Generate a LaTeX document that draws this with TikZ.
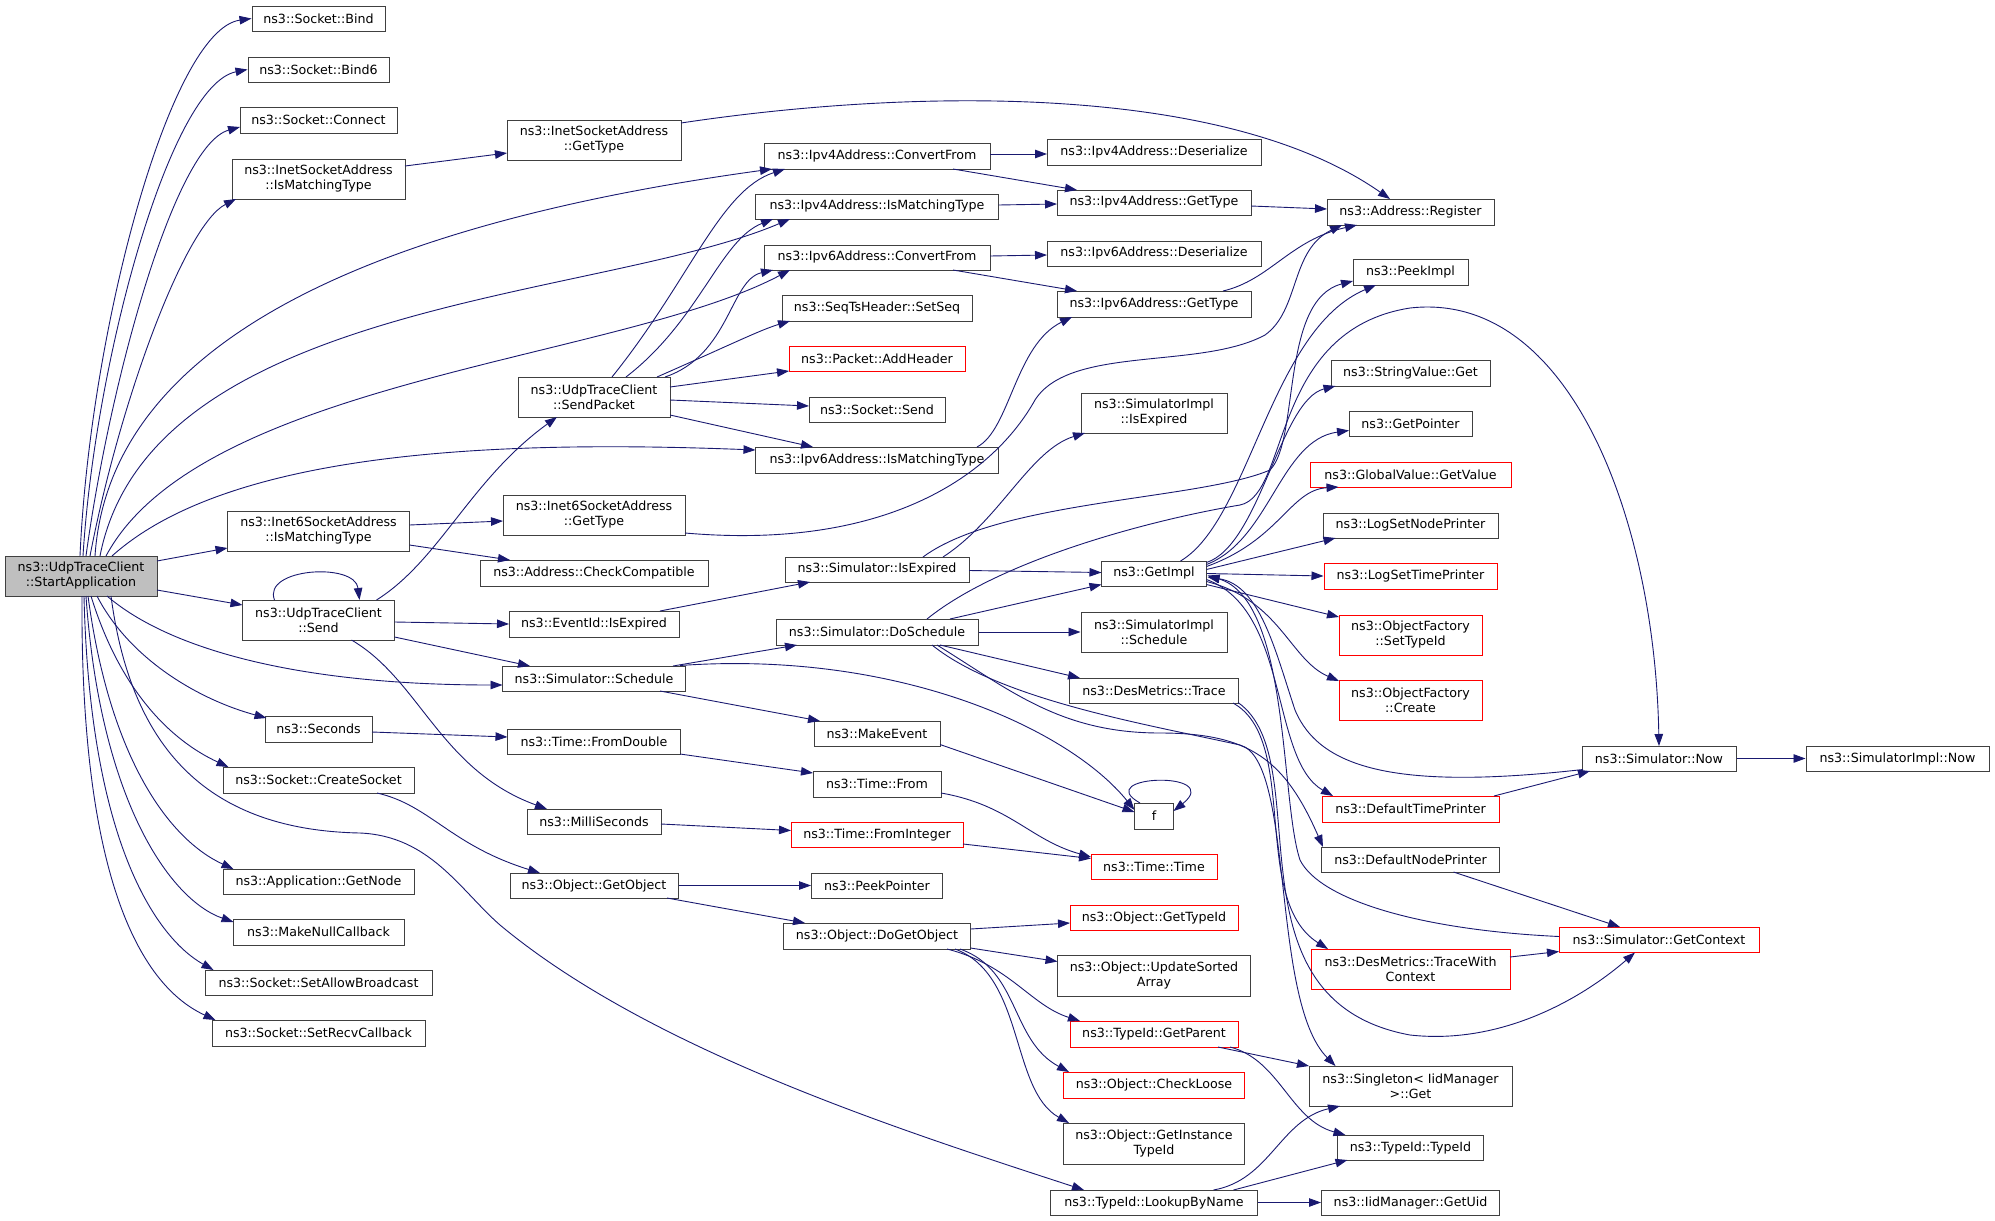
\documentclass[tikz,border=0pt]{standalone}
\usepackage{fontspec}
\setmainfont{DejaVu Sans}
\usetikzlibrary{arrows.meta,calc}
\definecolor{navy}{HTML}{191970}
\definecolor{boxgray}{HTML}{404040}
\definecolor{safill}{HTML}{BFBFBF}
\begin{document}
\begin{tikzpicture}[x=1pt,y=-1pt,
  box/.style={draw=boxgray, fill=white, line width=1pt, inner sep=0pt, align=center, font=\fontsize{12.65}{15}\selectfont},
  redbox/.style={box, draw=red},
  e/.style={draw=navy, line width=0.9pt, -{Triangle[length=12pt,width=8.5pt]}},
]
\useasboundingbox (0,0) rectangle (1995,1221);
% ---------- nodes ----------
\node[box, fill=safill, minimum width=152pt, minimum height=40pt] (sa) at (81,576) {ns3::UdpTraceClient\\::StartApplication};
\node[box, minimum width=133pt, minimum height=25pt] (bind) at (318.5,18.5) {ns3::Socket::Bind};
\node[box, minimum width=141pt, minimum height=25pt] (bindsix) at (318.5,69.5) {ns3::Socket::Bind6};
\node[box, minimum width=157pt, minimum height=26pt] (connect) at (318.5,120) {ns3::Socket::Connect};
\node[box, minimum width=173pt, minimum height=40pt] (inetmatch) at (318.5,179) {ns3::InetSocketAddress\\::IsMatchingType};
\node[box, minimum width=182pt, minimum height=40pt] (inetsixmatch) at (318.5,531) {ns3::Inet6SocketAddress\\::IsMatchingType};
\node[box, minimum width=152pt, minimum height=40pt] (udpsend) at (318.5,620) {ns3::UdpTraceClient\\::Send};
\node[box, minimum width=107pt, minimum height=26pt] (seconds) at (318.5,729) {ns3::Seconds};
\node[box, minimum width=191pt, minimum height=26pt] (createsock) at (318.5,780) {ns3::Socket::CreateSocket};
\node[box, minimum width=191pt, minimum height=25pt] (getnode) at (318.5,881.5) {ns3::Application::GetNode};
\node[box, minimum width=171pt, minimum height=26pt] (nullcb) at (318.5,932) {ns3::MakeNullCallback};
\node[box, minimum width=227pt, minimum height=25pt] (allowbc) at (318.5,982.5) {ns3::Socket::SetAllowBroadcast};
\node[box, minimum width=213pt, minimum height=26pt] (recvcb) at (318.5,1033) {ns3::Socket::SetRecvCallback};
\node[box, minimum width=174pt, minimum height=40pt] (inettype) at (594,140) {ns3::InetSocketAddress\\::GetType};
\node[box, minimum width=152pt, minimum height=40pt] (sendpacket) at (594,397) {ns3::UdpTraceClient\\::SendPacket};
\node[box, minimum width=182pt, minimum height=40pt] (inetsixtype) at (594,515) {ns3::Inet6SocketAddress\\::GetType};
\node[box, minimum width=228pt, minimum height=26pt] (checkcompat) at (594,573) {ns3::Address::CheckCompatible};
\node[box, minimum width=170pt, minimum height=26pt] (eventexp) at (594,624) {ns3::EventId::IsExpired};
\node[box, minimum width=183pt, minimum height=25pt] (schedule) at (594,678.5) {ns3::Simulator::Schedule};
\node[box, minimum width=173pt, minimum height=25pt] (fromdouble) at (594,741.5) {ns3::Time::FromDouble};
\node[box, minimum width=134pt, minimum height=25pt] (millis) at (594,821.5) {ns3::MilliSeconds};
\node[box, minimum width=168pt, minimum height=25pt] (getobject) at (594,885.5) {ns3::Object::GetObject};
\node[box, minimum width=226pt, minimum height=26pt] (ipfconv) at (877,156) {ns3::Ipv4Address::ConvertFrom};
\node[box, minimum width=243pt, minimum height=25pt] (ipfmatch) at (877,206.5) {ns3::Ipv4Address::IsMatchingType};
\node[box, minimum width=226pt, minimum height=25pt] (ipsconv) at (877,257.5) {ns3::Ipv6Address::ConvertFrom};
\node[box, minimum width=190pt, minimum height=26pt] (setseq) at (877,308) {ns3::SeqTsHeader::SetSeq};
\node[redbox, minimum width=176pt, minimum height=25pt] (addheader) at (877,358.5) {ns3::Packet::AddHeader};
\node[box, minimum width=136pt, minimum height=25pt] (socksend) at (877,409.5) {ns3::Socket::Send};
\node[box, minimum width=243pt, minimum height=26pt] (ipsmatch) at (877,460) {ns3::Ipv6Address::IsMatchingType};
\node[box, minimum width=184pt, minimum height=25pt] (simexp) at (877,569.5) {ns3::Simulator::IsExpired};
\node[box, minimum width=202pt, minimum height=26pt] (dosched) at (877,632) {ns3::Simulator::DoSchedule};
\node[box, minimum width=126pt, minimum height=25pt] (makeevent) at (877,733.5) {ns3::MakeEvent};
\node[box, minimum width=128pt, minimum height=26pt] (timefrom) at (877,784) {ns3::Time::From};
\node[redbox, minimum width=172pt, minimum height=25pt] (frominteger) at (877,834.5) {ns3::Time::FromInteger};
\node[box, minimum width=131pt, minimum height=25pt] (peekpointer) at (877,885.5) {ns3::PeekPointer};
\node[box, minimum width=187pt, minimum height=26pt] (dogetobject) at (877,936) {ns3::Object::DoGetObject};
\node[box, minimum width=214pt, minimum height=26pt] (ipfdes) at (1154,152) {ns3::Ipv4Address::Deserialize};
\node[box, minimum width=194pt, minimum height=25pt] (ipftype) at (1154,202.5) {ns3::Ipv4Address::GetType};
\node[box, minimum width=214pt, minimum height=25pt] (ipsdes) at (1154,253.5) {ns3::Ipv6Address::Deserialize};
\node[box, minimum width=194pt, minimum height=26pt] (ipstype) at (1154,304) {ns3::Ipv6Address::GetType};
\node[box, minimum width=146pt, minimum height=40pt] (simimplexp) at (1154,413) {ns3::SimulatorImpl\\::IsExpired};
\node[box, minimum width=105pt, minimum height=25pt] (getimpl) at (1154,573.5) {ns3::GetImpl};
\node[box, minimum width=146pt, minimum height=40pt] (simimplsched) at (1154,632) {ns3::SimulatorImpl\\::Schedule};
\node[box, minimum width=169pt, minimum height=25pt] (trace) at (1154,690.5) {ns3::DesMetrics::Trace};
\node[box, minimum width=39pt, minimum height=26pt] (f) at (1154,816) {f};
\node[redbox, minimum width=126pt, minimum height=25pt] (timetime) at (1154,866.5) {ns3::Time::Time};
\node[redbox, minimum width=168pt, minimum height=25pt] (gettypeid) at (1154,917.5) {ns3::Object::GetTypeId};
\node[box, minimum width=193pt, minimum height=41pt] (updsorted) at (1154,975.5) {ns3::Object::UpdateSorted\\Array};
\node[redbox, minimum width=168pt, minimum height=26pt] (getparent) at (1154,1034) {ns3::TypeId::GetParent};
\node[redbox, minimum width=181pt, minimum height=26pt] (checkloose) at (1154,1085) {ns3::Object::CheckLoose};
\node[box, minimum width=181pt, minimum height=41pt] (getinst) at (1154,1143.5) {ns3::Object::GetInstance\\TypeId};
\node[box, minimum width=207pt, minimum height=25pt] (lookup) at (1154,1202.5) {ns3::TypeId::LookupByName};
\node[box, minimum width=167pt, minimum height=26pt] (register) at (1410.5,212) {ns3::Address::Register};
\node[box, minimum width=115pt, minimum height=26pt] (peekimpl) at (1410.5,272) {ns3::PeekImpl};
\node[box, minimum width=159pt, minimum height=26pt] (stringget) at (1410.5,373) {ns3::StringValue::Get};
\node[box, minimum width=123pt, minimum height=25pt] (getpointer) at (1410.5,423.5) {ns3::GetPointer};
\node[redbox, minimum width=201pt, minimum height=25pt] (getvalue) at (1410.5,474.5) {ns3::GlobalValue::GetValue};
\node[box, minimum width=175pt, minimum height=25pt] (lognode) at (1410.5,525.5) {ns3::LogSetNodePrinter};
\node[redbox, minimum width=173pt, minimum height=26pt] (logtime) at (1410.5,576) {ns3::LogSetTimePrinter};
\node[redbox, minimum width=143pt, minimum height=40pt] (ofsettype) at (1410.5,635) {ns3::ObjectFactory\\::SetTypeId};
\node[redbox, minimum width=143pt, minimum height=40pt] (ofcreate) at (1410.5,700) {ns3::ObjectFactory\\::Create};
\node[redbox, minimum width=177pt, minimum height=26pt] (deftime) at (1410.5,809) {ns3::DefaultTimePrinter};
\node[box, minimum width=178pt, minimum height=25pt] (defnode) at (1410.5,859.5) {ns3::DefaultNodePrinter};
\node[redbox, minimum width=199pt, minimum height=40pt] (tracectx) at (1410.5,969) {ns3::DesMetrics::TraceWith\\Context};
\node[box, minimum width=203pt, minimum height=40pt] (singleton) at (1410.5,1086) {ns3::Singleton< IidManager\\ >::Get};
\node[box, minimum width=146pt, minimum height=25pt] (typeidtypeid) at (1410.5,1147.5) {ns3::TypeId::TypeId};
\node[box, minimum width=178pt, minimum height=25pt] (getuid) at (1410.5,1202.5) {ns3::IidManager::GetUid};
\node[box, minimum width=154pt, minimum height=25pt] (simnow) at (1659,758.5) {ns3::Simulator::Now};
\node[redbox, minimum width=200pt, minimum height=25pt] (getcontext) at (1659,939.5) {ns3::Simulator::GetContext};
\node[box, minimum width=183pt, minimum height=25pt] (simimplnow) at (1897.5,758.5) {ns3::SimulatorImpl::Now};
% ---------- edges from StartApplication ----------
\draw[e] ($(sa)+(-1,-20)$) .. controls (90,330) and (170,30) .. (bind.west);
\draw[e] ($(sa)+(2,-20)$) .. controls (95,360) and (170,85) .. (bindsix.west);
\draw[e] ($(sa)+(5,-20)$) .. controls (110,380) and (175,145) .. ($(connect)+(-78.5,7)$);
\draw[e] ($(sa)+(9,-20)$) .. controls (120,400) and (185,225) .. ($(inetmatch)+(-82.5,20)$);
\draw[e] ($(sa)+(14,-20)$) .. controls (110,330) and (400,220) .. ($(ipfconv)+(-105,13)$);
\draw[e] ($(sa)+(19,-20)$) .. controls (150,300) and (600,300) .. ($(ipfmatch)+(-87,12.5)$);
\draw[e] ($(sa)+(25,-20)$) .. controls (200,380) and (620,360) .. ($(ipsconv)+(-87,12.5)$);
\draw[e] ($(sa)+(31,-20)$) .. controls (230,450) and (500,440) .. ($(ipsmatch)+(-121.5,-10)$);
\draw[e] ($(sa)+(76,-15)$) -- ($(inetsixmatch)+(-91,17)$);
\draw[e] ($(sa)+(76,14)$) -- ($(udpsend)+(-76,-15)$);
\draw[e] ($(sa)+(26,20)$) .. controls (170,650) and (300,685) .. ($(schedule)+(-91.5,6.5)$);
\draw[e] ($(sa)+(16,20)$) .. controls (130,660) and (200,700) .. ($(seconds)+(-52,-11)$);
\draw[e] ($(sa)+(10,20)$) .. controls (120,690) and (170,740) .. ($(createsock)+(-90,-13)$);
\draw[e] ($(sa)+(7,20)$) .. controls (110,760) and (170,840) .. ($(getnode)+(-85,-12.5)$);
\draw[e] ($(sa)+(5,20)$) .. controls (100,800) and (170,900) .. ($(nullcb)+(-85,-10)$);
\draw[e] ($(sa)+(3,20)$) .. controls (90,850) and (160,940) .. ($(allowbc)+(-105,-12.5)$);
\draw[e] ($(sa)+(1,20)$) .. controls (80,900) and (150,990) .. ($(recvcb)+(-103,-13)$);
\draw[e] ($(sa)+(30,20)$) .. controls (130,740) and (200,830) .. (360,833) .. controls (430,836) and (460,890) .. (500,925) .. controls (650,1050) and (900,1130) .. ($(lookup)+(-70,-12.5)$);
% ---------- rank 1 ----------
\draw[e] ($(inetmatch)+(86.5,-13)$) -- ($(inettype)+(-87,13)$);
\draw[e] ($(inetsixmatch)+(91,-6)$) -- ($(inetsixtype)+(-91,6)$);
\draw[e] ($(inetsixmatch)+(91,14)$) -- ($(checkcompat)+(-84,-13)$);
\draw[e] ($(udpsend)+(-44,-20)$) .. controls (262,568) and (355,562) .. ($(udpsend)+(41,-20)$);
\draw[e] ($(udpsend)+(58,-20)$) .. controls (440,560) and (470,480) .. ($(sendpacket)+(-37,20)$);
\draw[e] ($(udpsend)+(76,2)$) -- ($(eventexp)+(-85,0)$);
\draw[e] ($(udpsend)+(76,17)$) -- ($(schedule)+(-64,-12.5)$);
\draw[e] ($(udpsend)+(33,20)$) .. controls (420,680) and (440,770) .. ($(millis)+(-47,-12.5)$);
\draw[e] ($(seconds)+(53.5,3)$) -- ($(fromdouble)+(-86.5,-4.5)$);
\draw[e] ($(createsock)+(58.5,13)$) .. controls (430,805) and (450,845) .. ($(getobject)+(-54,-12.5)$);
% ---------- rank 2 ----------
\draw[e] ($(inettype)+(87,-17)$) .. controls (900,90) and (1220,80) .. ($(register)+(-20.5,-13)$);
\draw[e] ($(sendpacket)+(18,-20)$) .. controls (690,280) and (720,190) .. ($(ipfconv)+(-92,13)$);
\draw[e] ($(sendpacket)+(32,-20)$) .. controls (700,320) and (720,240) .. ($(ipfmatch)+(-104,12.5)$);
\draw[e] ($(sendpacket)+(71,-20)$) .. controls (730,355) and (730,280) .. ($(ipsconv)+(-104,12.5)$);
\draw[e] ($(sendpacket)+(63,-20)$) .. controls (730,345) and (760,330) .. ($(setseq)+(-87,13)$);
\draw[e] ($(sendpacket)+(76,-10)$) -- ($(addheader)+(-88,12.5)$);
\draw[e] ($(sendpacket)+(76,3)$) -- ($(socksend)+(-68,-3.5)$);
\draw[e] ($(sendpacket)+(76,18)$) -- ($(ipsmatch)+(-64,-13)$);
\draw[e] ($(inetsixtype)+(91,18)$) .. controls (880,550) and (990,480) .. (1035,400) .. controls (1070,345) and (1200,370) .. (1265,335) .. controls (1300,310) and (1290,250) .. ($(register)+(-68.5,13)$);
\draw[e] ($(eventexp)+(66,-13)$) -- ($(simexp)+(-67,12.5)$);
\draw[e] ($(schedule)+(79,-12.5)$) -- ($(dosched)+(-80,13)$);
\draw[e] ($(schedule)+(66,12.5)$) -- ($(makeevent)+(-57,-12.5)$);
\draw[e] ($(schedule)+(86,-13)$) .. controls (900,650) and (1070,730) .. ($(f)+(-19.5,-6)$);
\draw[e] ($(fromdouble)+(86,12.5)$) -- ($(timefrom)+(-64,-11)$);
\draw[e] ($(millis)+(67,2.5)$) -- ($(frominteger)+(-86,-4)$);
\draw[e] (getobject.east) -- (peekpointer.west);
\draw[e] ($(getobject)+(73,12.5)$) -- ($(dogetobject)+(-72,-13)$);
% ---------- rank 3 ----------
\draw[e] ($(ipfconv)+(113,-2)$) -- ($(ipfdes)+(-107,2)$);
\draw[e] ($(ipfconv)+(76,13)$) -- ($(ipftype)+(-77,-12.5)$);
\draw[e] ($(ipfmatch)+(121.5,-1.5)$) -- ($(ipftype)+(-97,1.5)$);
\draw[e] ($(ipsconv)+(113,-1.5)$) -- ($(ipsdes)+(-107,1.5)$);
\draw[e] ($(ipsconv)+(76,12.5)$) -- ($(ipstype)+(-77,-13)$);
\draw[e] ($(ipsmatch)+(100,-13)$) .. controls (1010,430) and (1015,345) .. ($(ipstype)+(-82,13)$);
\draw[e] ($(simexp)+(66,-12.5)$) .. controls (1000,520) and (1030,450) .. ($(simimplexp)+(-69,20)$);
\draw[e] ($(simexp)+(92,1)$) -- ($(getimpl)+(-52.5,-1)$);
\draw[e] ($(simexp)+(46,-12.5)$) .. controls (1000,500) and (1200,500) .. (1270,470) .. controls (1300,440) and (1280,300) .. ($(peekimpl)+(-57.5,9)$);
\draw[e] ($(dosched)+(73,-13)$) -- ($(getimpl)+(-52.5,11)$);
\draw[e] (dosched.east) -- (simimplsched.west);
\draw[e] ($(dosched)+(63,13)$) -- ($(trace)+(-74,-12.5)$);
\draw[e] ($(dosched)+(50,-13)$) .. controls (1000,560) and (1150,520) .. (1240,505) .. controls (1290,495) and (1270,330) .. (1410,308) .. controls (1570,290) and (1655,520) .. ($(simnow)+(0,-12.5)$);
\draw[e] ($(dosched)+(55,13)$) .. controls (1000,700) and (1150,725) .. (1240,745) .. controls (1295,760) and (1270,1000) .. ($(singleton)+(-75,-20)$);
\draw[e] ($(dosched)+(60,13)$) .. controls (1010,690) and (1060,733) .. (1160,733) .. controls (1250,733) and (1285,760) .. ($(defnode)+(-87.5,-12.5)$);
\draw[e] ($(makeevent)+(63,11)$) -- ($(f)+(-19.5,-4)$);
\draw[e] ($(timefrom)+(64,9)$) .. controls (1010,805) and (1030,840) .. ($(timetime)+(-63,-9.5)$);
\draw[e] ($(frominteger)+(86,9.5)$) -- ($(timetime)+(-63,-8)$);
\draw[e] ($(dogetobject)+(93.5,-7)$) -- ($(gettypeid)+(-84,5.5)$);
\draw[e] ($(dogetobject)+(93.5,12)$) -- ($(updsorted)+(-96.5,-14)$);
\draw[e] ($(dogetobject)+(70,13)$) .. controls (1010,965) and (1030,1005) .. ($(getparent)+(-74,-13)$);
\draw[e] ($(dogetobject)+(83,13)$) .. controls (1020,970) and (1010,1040) .. ($(checkloose)+(-85,-13)$);
\draw[e] ($(dogetobject)+(78,13)$) .. controls (1025,975) and (1010,1090) .. ($(getinst)+(-85,-20.5)$);
% ---------- rank 4 ----------
\draw[e] ($(ipftype)+(97,3.5)$) -- ($(register)+(-83.5,-3)$);
\draw[e] ($(ipstype)+(69,-13)$) .. controls (1270,280) and (1290,240) .. ($(register)+(-53.5,13)$);
\draw[e] ($(getimpl)+(26.5,-12.5)$) .. controls (1250,520) and (1270,330) .. ($(peekimpl)+(-34.5,13)$);
\draw[e] ($(getimpl)+(52.5,-11)$) .. controls (1260,545) and (1280,400) .. ($(stringget)+(-75,13)$);
\draw[e] ($(getimpl)+(52.5,-9)$) .. controls (1270,540) and (1280,440) .. ($(getpointer)+(-61.5,7)$);
\draw[e] ($(getimpl)+(52.5,-7)$) .. controls (1280,540) and (1290,490) .. ($(getvalue)+(-72,12.5)$);
\draw[e] ($(getimpl)+(52.5,-4)$) -- ($(lognode)+(-75,12.5)$);
\draw[e] (getimpl.east) -- (logtime.west);
\draw[e] ($(getimpl)+(52.5,11)$) -- ($(ofsettype)+(-71.5,-18)$);
\draw[e] ($(getimpl)+(52.5,8)$) .. controls (1280,600) and (1290,660) .. ($(ofcreate)+(-71.5,-19)$);
\draw[e] ($(getimpl)+(52.5,6)$) .. controls (1290,610) and (1270,760) .. ($(deftime)+(-77.5,-13)$);
\draw[e] ($(trace)+(79,12.5)$) .. controls (1300,740) and (1250,900) .. ($(tracectx)+(-82.5,-20)$);
\draw[e] ($(trace)+(84,12)$) .. controls (1320,760) and (1220,1000) .. (1410,1035) .. controls (1500,1045) and (1580,1000) .. ($(getcontext)+(-24,13)$);
\draw[e] ($(f)+(-14,-13)$) .. controls (1090,775) and (1225,770) .. ($(f)+(19.5,-5)$);
\draw[e] ($(getparent)+(64,13)$) -- ($(singleton)+(-101.5,-20)$);
\draw[e] ($(getparent)+(76,13)$) .. controls (1280,1060) and (1290,1120) .. ($(typeidtypeid)+(-65,-12.5)$);
\draw[e] ($(lookup)+(59.5,-12.5)$) .. controls (1270,1180) and (1280,1120) .. ($(singleton)+(-70.5,20)$);
\draw[e] ($(lookup)+(79.5,-12.5)$) -- ($(typeidtypeid)+(-63,12.5)$);
\draw[e] (lookup.east) -- (getuid.west);
% ---------- rank 5/6 ----------
\draw[e] ($(deftime)+(83.5,-13)$) -- ($(simnow)+(-69,12.5)$);
\draw[e] ($(defnode)+(43,12.5)$) -- ($(getcontext)+(-39,-12.5)$);
\draw[e] ($(tracectx)+(99.5,-12)$) -- ($(getcontext)+(-100,12)$);
\draw[e] (simnow.east) -- (simimplnow.west);
\draw[e] ($(simnow)+(-76,11)$) .. controls (1400,790) and (1320,770) .. (1295,710) .. controls (1275,650) and (1260,585) .. ($(getimpl)+(53.5,3.5)$);
\draw[e] ($(getcontext)+(-100,-3)$) .. controls (1420,930) and (1320,900) .. (1300,860) .. controls (1280,800) and (1290,600) .. ($(getimpl)+(53.5,2)$);
\end{tikzpicture}
\end{document}
